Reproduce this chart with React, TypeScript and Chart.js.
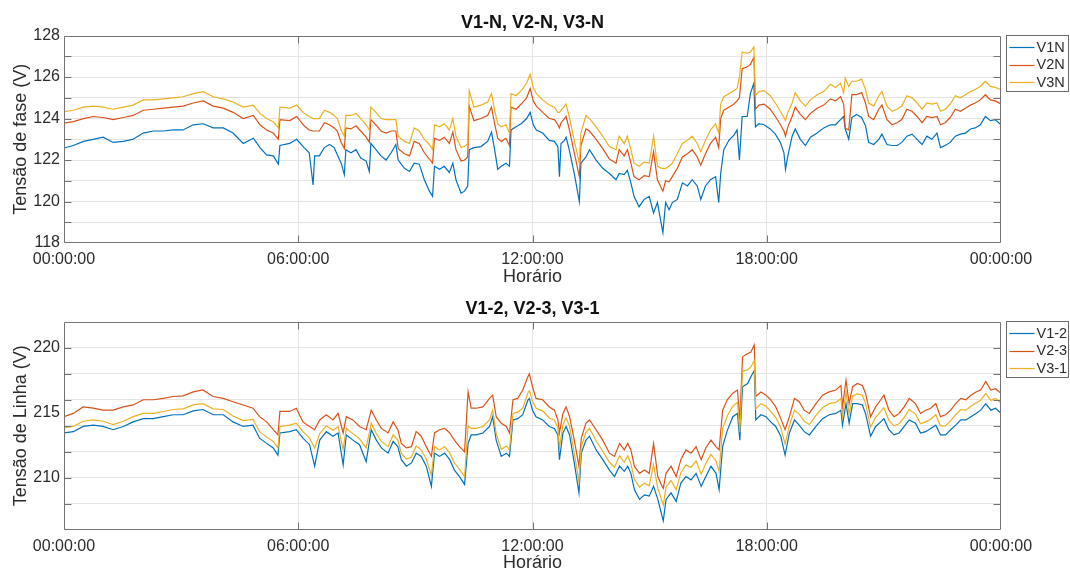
import React, { useEffect, useRef } from 'react';
import { Chart, registerables } from 'chart.js';

Chart.register(...registerables);

// ---------- text ----------
const topChartTitle = 'V1-N, V2-N, V3-N';
const bottomChartTitle = 'V1-2, V2-3, V3-1';
const xAxisTitle = 'Horário';
const topYAxisTitle = 'Tensão de fase (V)';
const bottomYAxisTitle = 'Tensão de Linha (V)';

// ---------- axes ----------
const xTickHours = [0, 6, 12, 18, 24];
const xTickLabels = ['00:00:00', '06:00:00', '12:00:00', '18:00:00', '00:00:00'];
const topYGrid = [119, 120, 121, 122, 123, 124, 125, 126, 127];
const topYLabels = [118, 120, 122, 124, 126, 128];
const bottomYGrid = [208, 210, 212, 214, 216, 218, 220];
const bottomYLabels = [210, 215, 220];

// ---------- top panel data (hours of day) ----------
const topHours = [
  0, 0.24, 0.5, 0.75, 1.0, 1.26, 1.52, 1.77, 2.03, 2.29, 2.54, 2.8, 3.05, 3.31, 3.57, 3.82, 4.08, 4.33, 4.59, 4.85, 5.02, 5.19, 5.36, 5.49, 5.53, 5.78, 5.96,
  6.15, 6.28, 6.38, 6.42, 6.54, 6.67, 6.8, 6.92, 7.0, 7.1, 7.18, 7.22, 7.35, 7.48, 7.6, 7.74, 7.82, 7.86, 7.99, 8.12, 8.25, 8.38, 8.5, 8.56, 8.72, 8.85, 8.97, 9.1, 9.23, 9.36, 9.44, 9.49, 9.62, 9.74, 9.87, 9.96, 10.04, 10.17, 10.26, 10.34, 10.38, 10.5, 10.68, 10.85, 10.95, 11.03, 11.11, 11.2, 11.32, 11.41, 11.45, 11.58, 11.71, 11.85, 11.94,
  12.02, 12.1, 12.26, 12.43, 12.56, 12.65, 12.69, 12.73, 12.82, 12.86, 12.94, 13.07, 13.2, 13.24, 13.37, 13.46, 13.63, 13.8, 13.97, 14.14, 14.22, 14.35, 14.43, 14.52, 14.6, 14.73, 14.86, 14.99, 15.1, 15.2, 15.31, 15.34, 15.41, 15.5, 15.58, 15.71, 15.84, 15.97, 16.09, 16.22, 16.31, 16.43, 16.56, 16.69, 16.77, 16.82, 16.9, 17.03, 17.16, 17.24, 17.3, 17.37, 17.5, 17.58, 17.67, 17.71, 17.8, 17.93,
  18.09, 18.22, 18.35, 18.44, 18.48, 18.54, 18.65, 18.73, 18.86, 18.99, 19.12, 19.29, 19.46, 19.63, 19.76, 19.89, 19.97, 20.01, 20.1, 20.18, 20.3, 20.43, 20.53, 20.61, 20.74, 20.87, 20.95, 21.08, 21.21, 21.34, 21.46, 21.59, 21.72, 21.85, 21.98, 22.1, 22.23, 22.36, 22.45, 22.57, 22.7, 22.83, 22.96, 23.09, 23.22, 23.34, 23.47, 23.6, 23.73, 23.85, 24.0,
];

const v1n = [
  122.58, 122.7, 122.9, 123.0, 123.1, 122.85, 122.9, 123.0, 123.3, 123.4, 123.4, 123.45, 123.45, 123.7, 123.75, 123.55, 123.55, 123.3, 122.8, 123.05, 122.6, 122.25, 122.2, 121.8, 122.7, 122.8, 123.0,
  122.6, 122.35, 120.8, 122.2, 122.2, 122.6, 122.75, 122.6, 122.25, 121.85, 121.3, 122.5, 122.35, 122.5, 122.1, 121.95, 121.45, 122.8, 122.5, 122.2, 122.0, 122.35, 122.75, 122.0, 121.6, 121.45, 121.85, 121.8, 121.05, 120.5, 120.25, 121.7, 121.55, 121.7, 121.4, 121.85, 121.05, 120.4, 120.5, 120.75, 122.5, 122.6, 122.65, 122.9, 123.35, 122.5, 121.55, 121.7, 121.85, 121.7, 123.45, 123.6, 123.75, 124.0, 124.3,
  123.7, 123.45, 123.3, 122.95, 122.9, 122.65, 121.2, 122.8, 122.95, 123.1, 122.5, 121.35, 120.0, 121.85, 122.15, 122.5, 122.0, 121.6, 121.35, 121.05, 121.35, 121.3, 121.5, 120.9, 120.25, 119.75, 120.1, 120.25, 119.45, 119.95, 118.8, 118.5, 119.95, 119.6, 119.95, 120.1, 120.9, 120.75, 121.05, 120.75, 120.1, 120.75, 121.05, 121.2, 119.95, 121.35, 122.5, 122.95, 123.2, 123.45, 122.0, 124.1, 124.1, 125.2, 125.7, 123.6, 123.75, 123.7,
  123.5, 123.25, 122.85, 122.35, 121.55, 122.2, 123.15, 123.5, 123.0, 122.7, 123.1, 123.3, 123.55, 123.7, 123.7, 123.95, 124.1, 123.5, 123.0, 124.05, 124.2, 124.05, 123.65, 122.85, 122.75, 123.0, 123.25, 122.75, 122.7, 122.7, 122.85, 123.15, 123.25, 123.0, 122.75, 123.15, 123.0, 123.3, 122.6, 122.7, 122.85, 123.15, 123.25, 123.3, 123.5, 123.55, 123.7, 124.1, 123.9, 123.95, 123.7,
];

const v2n = [
  123.78, 123.85, 124.0, 124.1, 124.05, 123.95, 124.05, 124.15, 124.4, 124.45, 124.5, 124.55, 124.6, 124.75, 124.85, 124.6, 124.5, 124.3, 124.0, 124.15, 123.7, 123.45, 123.3, 123.0, 123.95, 123.9, 124.1,
  123.65, 123.45, 123.4, 123.4, 123.4, 123.8, 123.7, 123.55, 123.4, 122.85, 122.55, 123.55, 123.5, 123.65, 123.4, 123.1, 122.85, 123.95, 123.7, 123.4, 123.3, 123.4, 123.4, 122.55, 122.3, 122.2, 122.9, 122.8, 122.35, 122.05, 121.85, 123.05, 122.95, 123.1, 122.8, 123.35, 122.5, 121.95, 122.0, 122.15, 124.6, 123.9, 124.0, 124.15, 124.55, 123.75, 123.05, 122.9, 123.05, 122.7, 124.55, 124.45, 124.7, 125.0, 125.45,
  124.85, 124.6, 124.3, 124.0, 123.95, 123.7, 123.55, 123.8, 124.0, 124.1, 123.5, 122.35, 121.2, 122.7, 123.5, 123.4, 123.0, 122.55, 122.05, 121.85, 122.5, 122.2, 122.5, 121.85, 121.2, 121.05, 121.25, 121.2, 122.4, 121.05, 120.6, 120.5, 121.0, 120.95, 121.2, 121.6, 122.15, 122.3, 122.5, 122.15, 121.75, 122.3, 122.8, 123.1, 122.6, 124.0, 124.4, 124.55, 124.7, 124.85, 125.0, 126.4, 126.5, 126.6, 126.95, 124.45, 124.65, 124.7,
  124.45, 124.1, 123.7, 123.4, 123.15, 123.6, 124.1, 124.55, 124.2, 123.95, 124.25, 124.5, 124.65, 124.95, 124.85, 125.05, 124.7, 123.55, 123.45, 125.15, 125.15, 125.25, 124.75, 124.1, 123.95, 124.45, 124.65, 123.95, 123.7, 123.8, 123.95, 124.45, 124.35, 124.1, 123.8, 124.1, 124.05, 124.1, 123.7, 123.8, 124.05, 124.45, 124.35, 124.5, 124.65, 124.75, 124.9, 125.15, 124.9, 124.85, 124.7,
];

const v3n = [
  124.33, 124.4, 124.55, 124.6, 124.55, 124.45, 124.55, 124.65, 124.9, 124.9, 124.95, 125.0, 125.05, 125.2, 125.3, 125.05, 124.95, 124.8, 124.55, 124.65, 124.25, 124.0, 123.85, 123.55, 124.55, 124.5, 124.65,
  124.25, 124.1, 124.0, 124.0, 124.0, 124.4, 124.3, 124.15, 124.0, 123.45, 123.15, 124.15, 124.15, 124.25, 124.0, 123.7, 123.45, 124.55, 124.3, 124.0, 123.95, 123.95, 123.95, 123.15, 122.9, 122.8, 123.55, 123.4, 123.0, 122.75, 122.5, 123.7, 123.6, 123.75, 123.45, 124.0, 123.15, 122.6, 122.65, 122.8, 125.35, 124.55, 124.65, 124.8, 125.2, 124.4, 123.75, 123.6, 123.7, 123.3, 125.2, 125.1, 125.35, 125.7, 126.15,
  125.5, 125.2, 124.9, 124.65, 124.55, 124.3, 124.3, 124.4, 124.6, 124.7, 124.1, 122.95, 121.85, 123.3, 124.15, 124.0, 123.6, 123.15, 122.65, 122.5, 123.15, 122.8, 123.15, 122.5, 121.85, 121.7, 121.9, 121.85, 123.15, 121.7, 121.6, 121.6, 121.6, 121.7, 121.85, 122.3, 122.8, 122.95, 123.15, 122.8, 122.4, 122.95, 123.45, 123.75, 123.3, 124.7, 125.05, 125.2, 125.35, 125.45, 126.0, 127.2, 127.15, 127.2, 127.45, 125.1, 125.3, 125.35,
  125.1, 124.75, 124.35, 124.05, 123.9, 124.3, 124.75, 125.25, 124.85, 124.6, 124.9, 125.15, 125.3, 125.65, 125.5, 125.7, 125.25, 125.95, 125.55, 125.8, 125.8, 125.9, 125.4, 124.75, 124.6, 125.1, 125.3, 124.6, 124.35, 124.45, 124.6, 125.1, 125.0, 124.75, 124.45, 124.75, 124.7, 124.75, 124.35, 124.45, 124.7, 125.1, 125.0, 125.15, 125.3, 125.4, 125.55, 125.8, 125.55, 125.5, 125.4,
];

// ---------- bottom panel data (hours of day) ----------
const bottomHours = [
  0, 0.24, 0.49, 0.75, 1.0, 1.26, 1.52, 1.77, 2.03, 2.29, 2.54, 2.8, 3.05, 3.31, 3.56, 3.82, 4.08, 4.33, 4.59, 4.84, 5.01, 5.19, 5.36, 5.48, 5.53, 5.78, 5.95, 6.12, 6.29, 6.42,
  6.55, 6.72, 6.89, 7.02, 7.15, 7.23, 7.4, 7.57, 7.74, 7.87, 8.0, 8.13, 8.3, 8.43, 8.55, 8.64, 8.77, 8.9, 9.02, 9.15, 9.28, 9.41, 9.49, 9.62, 9.75, 9.88, 10.0, 10.13, 10.26, 10.35,
  10.43, 10.56, 10.73, 10.9, 10.98, 11.07, 11.2, 11.33, 11.41, 11.5, 11.62, 11.75, 11.88, 11.92,
  12.0, 12.09, 12.26, 12.43, 12.56, 12.65, 12.69, 12.78, 12.86, 12.95, 13.07, 13.19, 13.25, 13.37, 13.46, 13.63, 13.8, 13.97, 14.1, 14.23,
  14.35, 14.44, 14.52, 14.61, 14.74, 14.87, 14.99, 15.1, 15.21, 15.32, 15.35, 15.42, 15.55, 15.68, 15.8, 15.93, 16.06, 16.19, 16.32, 16.44,
  16.57, 16.7, 16.78, 16.87, 16.99, 17.13, 17.25, 17.31, 17.38, 17.51, 17.59, 17.68, 17.72, 17.85, 17.98, 18.1, 18.23, 18.36, 18.47, 18.58,
  18.71, 18.83, 18.96, 19.09, 19.26, 19.43, 19.6, 19.77, 19.9, 19.94, 20.03, 20.11, 20.2, 20.32, 20.45, 20.53, 20.66, 20.79, 20.92, 21.0,
  21.13, 21.26, 21.39, 21.52, 21.65, 21.81, 21.94, 22.07, 22.2, 22.33, 22.45, 22.58, 22.71, 22.84, 22.97, 23.1, 23.23, 23.36, 23.48, 23.61,
  23.74, 23.86, 24.0,
];

const v12 = [
  213.45, 213.55, 213.95, 214.05, 213.95, 213.7, 213.95, 214.3, 214.55, 214.55, 214.7, 214.85, 214.85, 215.15, 215.25, 214.85, 214.85, 214.3, 213.95, 214.05, 213.05, 212.65, 212.3, 211.75, 213.45, 213.55, 213.7, 213.05, 212.55, 210.9,
  212.9, 213.55, 213.2, 213.45, 211.0, 213.3, 212.9, 212.55, 211.25, 213.7, 212.9, 212.3, 211.9, 212.8, 212.4, 211.4, 210.9, 211.15, 211.9, 211.65, 210.9, 209.35, 211.9, 211.65, 211.9, 211.4, 210.6, 210.1, 209.5, 212.65,
  213.3, 213.3, 213.45, 213.95, 214.7, 212.9, 211.65, 211.9, 211.65, 214.45, 214.55, 214.85, 215.95, 216.1,
  215.2, 214.7, 214.45, 213.95, 213.8, 213.3, 211.4, 213.45, 213.95, 213.3, 211.15, 208.85, 211.9, 212.9, 213.2, 212.15, 211.4, 210.6, 210.1, 210.9,
  210.5, 210.9, 210.35, 209.1, 208.35, 208.7, 208.6, 209.35, 208.35, 207.05, 206.7, 208.35, 208.85, 208.2, 209.6, 210.1, 209.85, 210.35, 209.35, 210.1,
  210.9, 210.35, 209.1, 212.4, 213.65, 214.7, 214.95, 212.9, 217.0, 217.25, 217.75, 218.25, 214.45, 214.85, 214.7, 214.3, 213.95, 213.2, 211.75, 213.45,
  214.45, 214.05, 213.55, 213.3, 213.95, 214.55, 214.85, 214.95, 215.2, 214.05, 215.7, 214.2, 215.7, 215.7, 215.6, 214.95, 213.2, 213.95, 214.3, 214.55,
  213.7, 213.3, 213.45, 213.95, 214.45, 214.2, 213.45, 213.55, 213.8, 214.05, 213.3, 213.3, 213.7, 214.05, 214.45, 214.45, 214.7, 214.95, 215.2, 215.7,
  215.2, 215.35, 214.95,
];

const v23 = [
  214.7, 214.95, 215.45, 215.35, 215.2, 215.2, 215.45, 215.6, 216.0, 216.0, 216.1, 216.25, 216.3, 216.6, 216.75, 216.25, 216.1, 215.85, 215.6, 215.35, 214.7, 214.3, 213.7, 213.3, 215.1, 215.1, 215.35, 214.3, 213.95, 213.7,
  214.45, 214.85, 214.45, 214.95, 213.45, 214.7, 214.45, 213.95, 213.7, 215.2, 214.45, 213.8, 213.45, 214.3, 213.7, 212.65, 212.3, 212.4, 213.55, 213.2, 212.4, 211.65, 213.45, 213.7, 213.8, 213.45, 212.9, 212.4, 212.0, 216.6,
  215.35, 215.35, 215.45, 216.1, 216.35, 214.7, 214.2, 213.95, 213.45, 216.0, 216.1, 216.75, 217.75, 218.0,
  217.0, 216.1, 216.0, 215.45, 215.2, 214.45, 213.45, 214.95, 215.45, 214.7, 212.9, 210.9, 213.05, 214.2, 214.45, 213.7, 212.9, 211.9, 211.65, 212.65,
  212.15, 212.65, 212.15, 210.9, 210.35, 210.6, 210.35, 212.65, 210.1, 209.35, 209.2, 210.35, 210.9, 210.1, 211.4, 212.15, 211.9, 212.4, 211.4, 212.3,
  212.9, 212.4, 212.15, 215.2, 216.0, 216.5, 216.75, 214.45, 219.3, 219.55, 219.65, 220.2, 216.25, 216.6, 216.35, 216.0, 215.45, 214.55, 213.7, 214.7,
  216.1, 215.85, 215.2, 214.95, 215.7, 216.35, 216.6, 216.75, 217.1, 215.45, 217.5, 215.7, 217.0, 217.25, 217.1, 216.5, 214.7, 215.45, 216.0, 216.35,
  215.2, 214.7, 214.95, 215.45, 216.1, 215.7, 214.95, 215.2, 215.35, 215.7, 214.7, 214.85, 215.2, 215.7, 216.1, 216.0, 216.35, 216.6, 216.75, 217.4,
  216.75, 216.85, 216.5,
];

const v31 = [
  213.85, 213.95, 214.35, 214.45, 214.35, 214.1, 214.35, 214.7, 214.95, 214.95, 215.1, 215.25, 215.3, 215.6, 215.7, 215.3, 215.25, 214.75, 214.4, 214.5, 213.55, 213.15, 212.8, 212.3, 213.95, 214.05, 214.2, 213.55, 213.05, 212.3,
  213.4, 214.0, 213.65, 213.95, 212.2, 213.8, 213.4, 213.0, 212.3, 214.2, 213.4, 212.8, 212.4, 213.3, 212.9, 211.9, 211.45, 211.6, 212.45, 212.15, 211.45, 210.2, 212.4, 212.15, 212.4, 211.9, 211.15, 210.65, 210.1, 214.0,
  213.8, 213.8, 213.95, 214.45, 215.2, 213.4, 212.2, 212.45, 212.15, 214.95, 215.05, 215.35, 216.5, 216.7,
  215.9, 215.35, 215.15, 214.6, 214.45, 213.85, 212.3, 214.1, 214.6, 213.95, 211.9, 209.7, 212.4, 213.5, 213.8, 212.85, 212.05, 211.2, 210.8, 211.7,
  211.2, 211.7, 211.1, 209.9, 209.3, 209.6, 209.4, 211.0, 209.2, 208.2, 207.9, 209.3, 209.8, 209.1, 210.4, 211.0, 210.8, 211.3, 210.3, 211.1,
  211.8, 211.3, 210.5, 213.8, 214.75, 215.5, 215.8, 213.5, 218.2, 218.3, 218.5, 219.0, 215.3, 215.7, 215.5, 215.1, 214.65, 213.85, 212.6, 214.0,
  215.2, 214.9, 214.35, 214.1, 214.8, 215.4, 215.7, 215.8, 216.1, 214.7, 216.6, 214.9, 216.3, 216.45, 216.35, 215.7, 213.9, 214.65, 215.1, 215.4,
  214.4, 214.0, 214.15, 214.65, 215.25, 214.9, 214.15, 214.3, 214.5, 214.85, 214.0, 214.0, 214.4, 214.85, 215.25, 215.2, 215.5, 215.75, 215.95, 216.5,
  215.95, 216.1, 215.75,
];

// ---------- styling ----------
const FONT = "'Liberation Sans', Arial, Helvetica, sans-serif";
const TEXT = '#2b2b2b';
const GRID = '#e4e4e4';
const FRAME = '#737373';
const C_BLUE = '#0072BD';
const C_ORANGE = '#D95319';
const C_YELLOW = '#EDB120';

type Series = { label: string; values: number[]; color: string; order: number };
type PanelSpec = {
  title: string;
  yTitle: string;
  hours: number[];
  series: Series[];
  yMin: number;
  yMax: number;
  yGrid: number[];
  yLabels: number[];
  xHeight: number;
};

const topSpec: PanelSpec = {
  title: topChartTitle,
  yTitle: topYAxisTitle,
  hours: topHours,
  series: [
    { label: 'V1N', values: v1n, color: C_BLUE, order: 2 },
    { label: 'V2N', values: v2n, color: C_ORANGE, order: 1 },
    { label: 'V3N', values: v3n, color: C_YELLOW, order: 0 },
  ],
  yMin: 118,
  yMax: 128,
  yGrid: topYGrid,
  yLabels: topYLabels,
  xHeight: 43,
};

const bottomSpec: PanelSpec = {
  title: bottomChartTitle,
  yTitle: bottomYAxisTitle,
  hours: bottomHours,
  series: [
    { label: 'V1-2', values: v12, color: C_BLUE, order: 2 },
    { label: 'V2-3', values: v23, color: C_ORANGE, order: 1 },
    { label: 'V3-1', values: v31, color: C_YELLOW, order: 0 },
  ],
  yMin: 206,
  yMax: 222,
  yGrid: bottomYGrid,
  yLabels: bottomYLabels,
  xHeight: 42,
};

// Draws the MATLAB-style box, inward tick marks and the boxed legend.
const matlabFrame = {
  id: 'matlabFrame',
  afterDraw(chart: any, _args: any, opts: any) {
    const { ctx, chartArea: a, scales } = chart;
    const L = Math.round(a.left) + 0.5;
    const R = Math.round(a.right) - 0.5;
    const T = Math.round(a.top) + 0.5;
    const B = Math.round(a.bottom) - 0.5;
    ctx.save();
    ctx.strokeStyle = FRAME;
    ctx.lineWidth = 1;
    ctx.beginPath();
    ctx.rect(L, T, R - L, B - T);
    const tl = 7;
    for (const v of opts.yMarks as number[]) {
      const py = Math.round(scales.y.getPixelForValue(v)) + 0.5;
      ctx.moveTo(L, py);
      ctx.lineTo(L + tl, py);
      ctx.moveTo(R, py);
      ctx.lineTo(R - tl, py);
    }
    for (const v of opts.xMarks as number[]) {
      const px = Math.round(scales.x.getPixelForValue(v)) + 0.5;
      ctx.moveTo(px, T);
      ctx.lineTo(px, T + tl);
      ctx.moveTo(px, B);
      ctx.lineTo(px, B - tl);
    }
    ctx.stroke();

    // legend
    const lx = R + 6;
    const ly = T - 1;
    const lw = 62;
    const lh = 56;
    ctx.fillStyle = '#ffffff';
    ctx.fillRect(lx, ly, lw, lh);
    ctx.strokeStyle = '#6a6a6a';
    ctx.strokeRect(lx, ly, lw, lh);
    ctx.font = `14.5px ${FONT}`;
    ctx.textBaseline = 'middle';
    ctx.textAlign = 'left';
    chart.data.datasets.forEach((ds: any, i: number) => {
      const y = ly + 11.5 + i * 17.5;
      ctx.strokeStyle = ds.borderColor;
      ctx.lineWidth = 1.2;
      ctx.beginPath();
      ctx.moveTo(lx + 3, Math.round(y) + 0.5);
      ctx.lineTo(lx + 28, Math.round(y) + 0.5);
      ctx.stroke();
      ctx.fillStyle = TEXT;
      ctx.fillText(ds.label, lx + 30, y + 0.5);
    });
    ctx.restore();
  },
};

function buildConfig(spec: PanelSpec): any {
  const yTicks = Array.from(new Set([...spec.yGrid, ...spec.yLabels])).sort((p, q) => p - q);
  return {
    type: 'line',
    data: {
      datasets: spec.series.map((s) => ({
        label: s.label,
        data: spec.hours.map((h, i) => ({ x: h, y: s.values[i] })),
        borderColor: s.color,
        backgroundColor: s.color,
        borderWidth: 1.2,
        pointRadius: 0,
        tension: 0,
        fill: false,
        order: s.order,
      })),
    },
    options: {
      responsive: false,
      animation: false,
      devicePixelRatio: 1,
      events: [],
      layout: { padding: { left: 0, right: 69, top: 0, bottom: 0 } },
      plugins: {
        legend: { display: false },
        tooltip: { enabled: false },
        title: {
          display: true,
          text: spec.title,
          fullSize: false,
          color: '#111',
          font: { family: FONT, size: 18, weight: 'bold' },
          padding: { top: 12, bottom: 2 },
        },
        matlabFrame: {
          yMarks: spec.yGrid,
          xMarks: xTickHours.slice(1, -1),
        },
      },
      scales: {
        x: {
          type: 'linear',
          min: 0,
          max: 24,
          afterBuildTicks: (ax: any) => {
            ax.ticks = xTickHours.map((v) => ({ value: v }));
          },
          afterFit: (ax: any) => {
            ax.height = spec.xHeight;
          },
          ticks: {
            autoSkip: false,
            maxRotation: 0,
            minRotation: 0,
            padding: 7,
            color: TEXT,
            font: { family: FONT, size: 16 },
            callback: (v: any) => {
              const i = xTickHours.indexOf(Number(v));
              return i >= 0 ? xTickLabels[i] : '';
            },
          },
          grid: {
            drawTicks: false,
            lineWidth: 1,
            color: (c: any) =>
              c.tick && c.tick.value > 0 && c.tick.value < 24 ? GRID : 'rgba(0,0,0,0)',
          },
          border: { display: false },
          title: {
            display: true,
            text: xAxisTitle,
            color: TEXT,
            font: { family: FONT, size: 18, lineHeight: 1 },
            padding: { top: 0, bottom: 0 },
          },
        },
        y: {
          type: 'linear',
          min: spec.yMin,
          max: spec.yMax,
          afterBuildTicks: (ax: any) => {
            ax.ticks = yTicks.map((v) => ({ value: v }));
          },
          afterFit: (ax: any) => {
            ax.width = 64;
          },
          ticks: {
            autoSkip: false,
            padding: 4,
            color: TEXT,
            font: { family: FONT, size: 16 },
            callback: (v: any) => (spec.yLabels.includes(Number(v)) ? String(v) : ''),
          },
          grid: {
            drawTicks: false,
            lineWidth: 1,
            color: (c: any) =>
              c.tick && spec.yGrid.includes(c.tick.value) ? GRID : 'rgba(0,0,0,0)',
          },
          border: { display: false },
          title: {
            display: true,
            text: spec.yTitle,
            color: TEXT,
            font: { family: FONT, size: 18 },
            padding: { top: 10, bottom: 0 },
          },
        },
      },
    },
    plugins: [matlabFrame],
  };
}

function Panel({ spec }: { spec: PanelSpec }) {
  const ref = useRef<HTMLCanvasElement | null>(null);
  useEffect(() => {
    if (!ref.current) return;
    const chart = new Chart(ref.current, buildConfig(spec));
    return () => chart.destroy();
  }, [spec]);
  return (
    <canvas
      ref={ref}
      width={1070}
      height={286}
      style={{ display: 'block', width: 1070, height: 286 }}
    />
  );
}

export default function App() {
  return (
    <div
      style={{
        position: 'absolute',
        left: 0,
        top: 0,
        width: 1070,
        height: 572,
        background: '#ffffff',
      }}
    >
      <Panel spec={topSpec} />
      <Panel spec={bottomSpec} />
    </div>
  );
}
